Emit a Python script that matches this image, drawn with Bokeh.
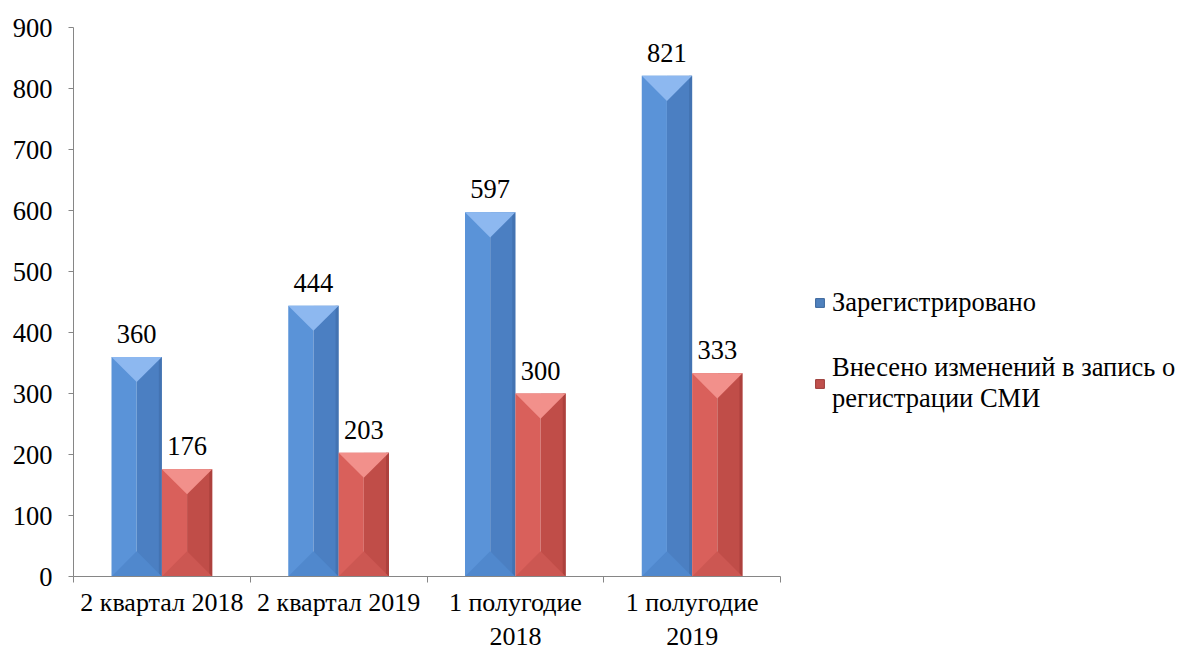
import math
from bokeh.plotting import figure
from bokeh.models import FixedTicker, Legend, LegendItem, ColumnDataSource, Range1d
from bokeh.core.properties import value
from bokeh.embed import file_html
from bokeh.resources import INLINE

categories = ["2 квартал 2018", "2 квартал 2019", "1 полугодие\n2018", "1 полугодие\n2019"]
registered = [360, 444, 597, 821]
changed = [176, 203, 300, 333]
series_names = ["Зарегистрировано", "Внесено изменений в запись о\nрегистрации СМИ"]
y_ticks = [0, 100, 200, 300, 400, 500, 600, 700, 800, 900]

FONT = "Liberation Serif"
FRAME_W, FRAME_H = 707, 549
Y_MAX = 900

p = figure(frame_width=FRAME_W, frame_height=FRAME_H, output_backend="svg", toolbar_location=None,
           x_range=Range1d(0, len(categories)), y_range=Range1d(0, Y_MAX),
           min_border_left=73, min_border_top=27, min_border_bottom=65, min_border_right=5)
p.outline_line_color = None
p.xgrid.visible = False
p.ygrid.visible = False

bw = 0.285
px_per_x = FRAME_W / len(categories)
y_per_px = Y_MAX / FRAME_H
bev = (bw / 2) * px_per_x * y_per_px

palettes = [
    dict(left="#5A93D8", right="#4B7FC2", top="#8DB8F0", bottom="#5088CD", edge="#3E6AA6"),
    dict(left="#D9605B", right="#C04D48", top="#F2908B", bottom="#CC5752", edge="#A03B37"),
]

def draw_series(vals, offset, pal):
    lx, rx, tx, bx, ex = [], [], [], [], []
    ly, ry, ty, by, ey = [], [], [], [], []
    for i, v in enumerate(vals):
        x0 = i + 0.5 + offset
        x1 = x0 + bw
        xm = (x0 + x1) / 2
        lx.append([x0, xm, xm, x0]); ly.append([0, 0, v, v])
        rx.append([xm, x1, x1, xm]); ry.append([0, 0, v, v])
        tx.append([x0, x1, xm]); ty.append([v, v, v - bev])
        bx.append([x0, x1, xm]); by.append([0, 0, min(bev, v / 2)])
        ex.append([x1 - bw * 0.06, x1, x1, x1 - bw * 0.06]); ey.append([0, 0, v, v])
    p.patches(lx, ly, fill_color=pal["left"], line_color=None)
    p.patches(rx, ry, fill_color=pal["right"], line_color=None)
    p.patches(ex, ey, fill_color=pal["edge"], line_color=None, fill_alpha=0.6)
    p.patches(bx, by, fill_color=pal["bottom"], line_color=None)
    p.patches(tx, ty, fill_color=pal["top"], line_color=None)
    src = ColumnDataSource(dict(x=[i + 0.5 + offset + bw / 2 for i in range(len(vals))],
                                y=vals, t=[str(v) for v in vals]))
    p.text(x="x", y="y", text="t", source=src, text_align="center", text_baseline="middle",
           y_offset=-23, text_font=value(FONT), text_font_size="26.5px", text_color="#000000")

draw_series(registered, -bw, palettes[0])
draw_series(changed, 0, palettes[1])

# legend (dummy renderers placed outside the visible range)
r1 = p.quad(left=[-101], right=[-100], bottom=[-101], top=[-100],
            fill_color="#4F81BD", line_color="#3A659A")
r2 = p.quad(left=[-101], right=[-100], bottom=[-101], top=[-100],
            fill_color="#C0504D", line_color="#9A3A37")
legend = Legend(items=[LegendItem(label=series_names[0], renderers=[r1]),
                       LegendItem(label=series_names[1], renderers=[r2])],
                location=(34, 162), orientation="vertical", border_line_color=None,
                background_fill_alpha=0, padding=0, margin=0, spacing=34,
                glyph_width=11, glyph_height=11, label_standoff=7,
                label_text_font=FONT, label_text_font_size="26.5px", label_text_color="#000000")
p.add_layout(legend, "right")

# axes
ax = p.xaxis[0]
ax.ticker = FixedTicker(ticks=[i + 0.5 for i in range(len(categories))],
                        minor_ticks=list(range(len(categories) + 1)))
ax.major_label_overrides = {i + 0.5: c for i, c in enumerate(categories)}
ax.major_tick_line_color = None
ax.minor_tick_in = 0
ax.minor_tick_out = 6
ax.minor_tick_line_color = "#868686"
ax.axis_line_color = "#868686"
ax.major_label_text_font = FONT
ax.major_label_text_font_size = "26px"
ax.major_label_text_color = "#000000"
ax.major_label_standoff = 5

ay = p.yaxis[0]
ay.ticker = FixedTicker(ticks=y_ticks)
ay.minor_tick_line_color = None
ay.major_tick_in = 0
ay.major_tick_out = 5
ay.major_tick_line_color = "#868686"
ay.axis_line_color = "#868686"
ay.major_label_text_font = FONT
ay.major_label_text_font_size = "26.5px"
ay.major_label_text_color = "#000000"
ay.major_label_standoff = 16

open("out.html", "w").write(file_html(p, INLINE))
